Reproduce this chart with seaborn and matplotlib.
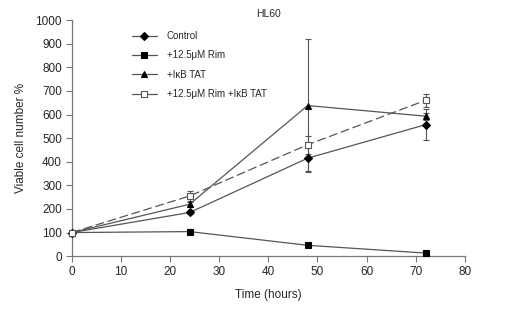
import matplotlib
matplotlib.use("Agg")
import matplotlib.pyplot as plt
import numpy as np
import pandas as pd
import seaborn as sns

# time points (hours)
hours = [0, 24, 48, 72]

# viable cell number %
control = [100, 185, 415, 557]
control_err = [0, 8, 55, 65]
rim = [100, 104, 46, 13]
rim_err = [0, 0, 0, 0]
ikb_tat = [100, 220, 638, 593]
ikb_tat_err = [0, 10, 283, 15]
rim_ikb = [100, 255, 472, 660]
rim_ikb_err = [0, 20, 38, 27]

series_names = ["Control", "+12.5\u03bcM Rim", "+I\u03baB TAT", "+12.5\u03bcM Rim +I\u03baB TAT"]

sns.set_theme(style="white")
plt.rcParams["font.family"] = ["Liberation Sans", "DejaVu Sans"]

fig = plt.figure(figsize=(5.2, 3.19), dpi=100)
ax = fig.add_axes([0.138, 0.197, 0.756, 0.740])

styles = [
    dict(marker="D", ms=4, mfc="black", mec="black", ls="-"),
    dict(marker="s", ms=4.5, mfc="black", mec="black", ls="-"),
    dict(marker="^", ms=5, mfc="black", mec="black", ls="-"),
    dict(marker="s", ms=5, mfc="white", mec="#555555", ls=(0, (7, 3))),
]
values = [control, rim, ikb_tat, rim_ikb]
errors = [control_err, rim_err, ikb_tat_err, rim_ikb_err]
line_col = "#555555"

for name, vals, errs, st in zip(series_names, values, errors, styles):
    df = pd.DataFrame({"hours": hours, "value": vals})
    sns.lineplot(data=df, x="hours", y="value", ax=ax, color=line_col, lw=0.9,
                 linestyle=st["ls"], marker=st["marker"], markersize=st["ms"],
                 markerfacecolor=st["mfc"], markeredgecolor=st["mec"],
                 markeredgewidth=0.8, label=name, zorder=3, clip_on=False)
    ax.errorbar(hours, vals, yerr=errs, fmt="none", ecolor=line_col,
                elinewidth=0.8, capsize=2, capthick=0.8, zorder=2)

ax.set_xlim(0, 80)
ax.set_ylim(0, 1000)
ax.set_xticks(np.arange(0, 81, 10))
ax.set_yticks(np.arange(0, 1001, 100))
for side in ["top", "right"]:
    ax.spines[side].set_visible(False)
for side in ["left", "bottom"]:
    ax.spines[side].set_color("#777777")
    ax.spines[side].set_linewidth(0.9)
ax.tick_params(axis="both", direction="out", length=4, width=0.8, color="#777777",
               labelsize=8.5, pad=3, left=True, bottom=True)
ax.set_xlabel("Time (hours)", fontsize=8.5, labelpad=8)
ax.set_ylabel("Viable cell number %", fontsize=8.5, labelpad=6)
ax.set_title("HL60", fontsize=7.5, pad=2)

leg = ax.legend(loc="upper left", bbox_to_anchor=(0.13, 0.99), frameon=False, fontsize=7,
                handlelength=2.6, labelspacing=0.95, handletextpad=1.0)
# legend keys are drawn with plain solid lines
for h in leg.get_lines():
    h.set_linestyle("-")

fig.savefig("out.png", dpi=100)
